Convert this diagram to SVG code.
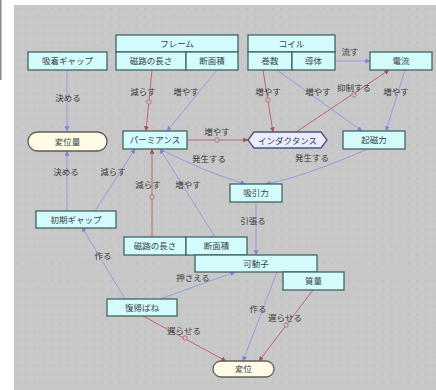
<svg xmlns="http://www.w3.org/2000/svg" width="436" height="390" viewBox="0 0 436 390">
  <defs>
    <pattern id="grid" x="14" y="5" width="8.5" height="8.5" patternUnits="userSpaceOnUse">
      <rect x="3" y="3" width="1.2" height="1.2" fill="#b4b4b4"/>
    </pattern>
    <marker id="ab" viewBox="0 0 8 8" refX="7.5" refY="4" markerWidth="5" markerHeight="5" orient="auto">
      <path d="M0,0 L8,4 L0,8 z" fill="#8080de"/>
    </marker>
    <marker id="ar" viewBox="0 0 8 8" refX="7.5" refY="4" markerWidth="5" markerHeight="5" orient="auto">
      <path d="M0,0 L8,4 L0,8 z" fill="#b04c58"/>
    </marker>
  </defs>
  <style>
    .box { fill: #d4fbfb; stroke: #436464; stroke-width: 1.3; }
    .pill { fill: #fffbe4; stroke: #5e5e54; stroke-width: 1.3; }
    .hex { fill: #ececff; stroke: #50547a; stroke-width: 1.3; }
    .t { font-family: "Noto Sans CJK JP", "Noto Sans", sans-serif; font-size: 8.5px; fill: #34444a; text-anchor: middle; }
    .lbl { font-family: "Noto Sans CJK JP", "Noto Sans", sans-serif; font-size: 8.5px; fill: #3a3a3a; text-anchor: middle; }
    .pos { fill: none; stroke: #9a9ae6; stroke-width: 1; marker-end: url(#ab); }
    .neg { fill: none; stroke: #bc6670; stroke-width: 1; marker-end: url(#ar); }
    .mk { fill: #c8c8c8; stroke: #bc6670; stroke-width: 0.9; }
  </style>

  <!-- page and canvas -->
  <rect width="436" height="390" fill="#ffffff"/>
  <rect x="0" y="0" width="1.5" height="80" fill="#8a8a8a"/>
  <rect x="14" y="5" width="422" height="385" fill="#c8c8c8"/>
  <rect x="14" y="5" width="422" height="385" fill="url(#grid)"/>

  <!-- connectors -->
  <g id="connectors">
    <path class="pos" d="M67,70 L67,131"/>
    <path class="neg" d="M152,70 L146,131"/>
    <circle class="mk" cx="149" cy="102" r="2.2"/>
    <path class="pos" d="M217,70 L167,131"/>
    <path class="neg" d="M263,70 L273,132"/>
    <circle class="mk" cx="268" cy="100" r="2.2"/>
    <path class="pos" d="M277,70 L362,131"/>
    <path class="pos" d="M335,61 L370,61"/>
    <path class="neg" d="M296,132 L389,70"/>
    <circle class="mk" cx="354" cy="95" r="2.2"/>
    <path class="pos" d="M405,70 L386,131"/>
    <path class="neg" d="M187,140 L248,140"/>
    <circle class="mk" cx="217" cy="140" r="2.2"/>
    <path class="pos" d="M160,149 Q205,172 245,184"/>
    <path class="pos" d="M368,149 Q300,178 266,184"/>
    <path class="pos" d="M256,202 L256,255"/>
    <path class="pos" d="M67,211 L67,151"/>
    <path class="pos" d="M95,211 L135,149"/>
    <path class="neg" d="M152,237 L152,149"/>
    <circle class="mk" cx="152" cy="197" r="2.2"/>
    <path class="pos" d="M215,237 L160,149"/>
    <path class="pos" d="M125,299 L82,227"/>
    <path class="pos" d="M160,299 L235,272"/>
    <path class="neg" d="M143,316 L226,361"/>
    <circle class="mk" cx="185" cy="338" r="2.2"/>
    <path class="pos" d="M277,272 L243,361"/>
    <path class="neg" d="M313,290 L259,361"/>
    <circle class="mk" cx="286" cy="325" r="2.2"/>

    <text class="lbl" x="68" y="101">決める</text>
    <text class="lbl" x="143" y="95">減らす</text>
    <text class="lbl" x="186" y="95">増やす</text>
    <text class="lbl" x="268" y="95">増やす</text>
    <text class="lbl" x="318" y="95">増やす</text>
    <text class="lbl" x="350" y="55">流す</text>
    <text class="lbl" x="354" y="91">抑制する</text>
    <text class="lbl" x="396" y="95">増やす</text>
    <text class="lbl" x="217" y="135">増やす</text>
    <text class="lbl" x="209" y="162">発生する</text>
    <text class="lbl" x="312" y="161">発生する</text>
    <text class="lbl" x="253" y="224">引張る</text>
    <text class="lbl" x="66" y="175">決める</text>
    <text class="lbl" x="113" y="175">減らす</text>
    <text class="lbl" x="148" y="188">減らす</text>
    <text class="lbl" x="188" y="188">増やす</text>
    <text class="lbl" x="103" y="259">作る</text>
    <text class="lbl" x="193" y="281">押さえる</text>
    <text class="lbl" x="184" y="334">遅らせる</text>
    <text class="lbl" x="258" y="312">作る</text>
    <text class="lbl" x="285" y="321">遅らせる</text>
  </g>

  <!-- nodes -->
  <g id="n-kyuchaku">
    <rect class="box" x="28" y="52" width="79" height="18"/>
    <text class="t" x="67.5" y="64">吸着ギャップ</text>
  </g>
  <g id="n-frame">
    <rect class="box" x="116" y="35" width="122" height="17"/>
    <text class="t" x="177" y="46.5">フレーム</text>
  </g>
  <g id="n-frame-jiro">
    <rect class="box" x="116" y="52" width="70" height="18"/>
    <text class="t" x="151" y="64">磁路の長さ</text>
  </g>
  <g id="n-frame-danmen">
    <rect class="box" x="186" y="52" width="52" height="18"/>
    <text class="t" x="212" y="64">断面積</text>
  </g>
  <g id="n-coil">
    <rect class="box" x="248" y="35" width="87" height="17"/>
    <text class="t" x="291.5" y="46.5">コイル</text>
  </g>
  <g id="n-coil-makisu">
    <rect class="box" x="248" y="52" width="44" height="18"/>
    <text class="t" x="270" y="64">巻数</text>
  </g>
  <g id="n-coil-dotai">
    <rect class="box" x="292" y="52" width="43" height="18"/>
    <text class="t" x="313.5" y="64">導体</text>
  </g>
  <g id="n-denryu">
    <rect class="box" x="370" y="52" width="62" height="18"/>
    <text class="t" x="401" y="64">電流</text>
  </g>
  <g id="n-heniryo">
    <rect class="pill" x="28" y="132" width="79" height="19" rx="9.5"/>
    <text class="t" x="67.5" y="144.5">変位量</text>
  </g>
  <g id="n-permeance">
    <rect class="box" x="123" y="131" width="64" height="18"/>
    <text class="t" x="155" y="143">パーミアンス</text>
  </g>
  <g id="n-inductance">
    <polygon class="hex" points="248,140 254,132 321,132 327,140 321,148 254,148"/>
    <text class="t" x="287.5" y="143.5">インダクタンス</text>
  </g>
  <g id="n-kijiryoku">
    <rect class="box" x="343" y="131" width="62" height="18"/>
    <text class="t" x="374" y="143">起磁力</text>
  </g>
  <g id="n-kyuinryoku">
    <rect class="box" x="230" y="184" width="52" height="18"/>
    <text class="t" x="256" y="196">吸引力</text>
  </g>
  <g id="n-shoki">
    <rect class="box" x="36" y="211" width="80" height="17"/>
    <text class="t" x="76" y="222.5">初期ギャップ</text>
  </g>
  <g id="n-kadoshi-jiro">
    <rect class="box" x="124" y="237" width="62" height="18"/>
    <text class="t" x="155" y="249">磁路の長さ</text>
  </g>
  <g id="n-kadoshi-danmen">
    <rect class="box" x="186" y="237" width="61" height="18"/>
    <text class="t" x="216.5" y="249">断面積</text>
  </g>
  <g id="n-kadoshi">
    <rect class="box" x="195" y="255" width="122" height="17"/>
    <text class="t" x="256" y="266.5">可動子</text>
  </g>
  <g id="n-shitsuryo">
    <rect class="box" x="283" y="272" width="61" height="18"/>
    <text class="t" x="313.5" y="284">質量</text>
  </g>
  <g id="n-fukkibane">
    <rect class="box" x="107" y="299" width="70" height="17"/>
    <text class="t" x="142" y="310.5">復帰ばね</text>
  </g>
  <g id="n-heni">
    <rect class="pill" x="213" y="361" width="61" height="16" rx="8"/>
    <text class="t" x="243.5" y="372">変位</text>
  </g>
</svg>
